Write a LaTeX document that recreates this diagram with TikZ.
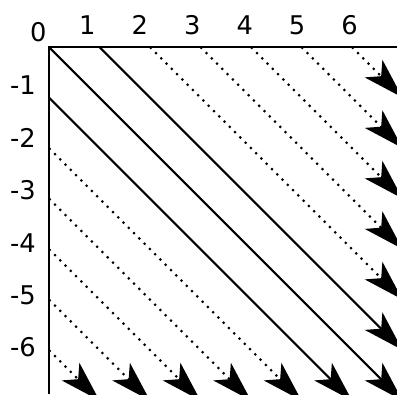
\documentclass[tikz,border=0pt]{standalone}
\usepackage{fontspec}
\setmainfont{DejaVu Sans}
\usetikzlibrary{arrows.meta}
\definecolor{gridink}{HTML}{000000}

\begin{document}
\begin{tikzpicture}[x=1cm, y=1cm,
  every node/.style={gridink, font=\fontsize{14.5}{17}\selectfont, inner sep=0pt},
  axisline/.style={gridink, line width=0.8pt},
  diagline/.style={gridink, line width=1.2pt, -{Stealth[length=23pt, width=14pt, inset=6pt]}},
  dotline/.style={diagline, dash pattern=on 1.2pt off 3pt}]

  \useasboundingbox (-0.970,-6.871) rectangle (6.891,0.931);
  \clip (-0.970,-6.871) rectangle (6.891,0.931);

  % axes
  \coordinate (o) at (0,0);
  \coordinate (axbottom) at (0,-6.871);
  \coordinate (axright) at (6.891,0);
  \draw[axisline] (axbottom) -- (o) -- (axright);

  % start and end points of the diagonals
  \foreach \i in {0,...,6} {
    \coordinate (t\i) at (\i,0);
    \coordinate (r\i) at (7,{\i-7});
  }
  \foreach \j in {1,...,6} {
    \coordinate (l\j) at (0,-\j);
    \coordinate (b\j) at ({7-\j},-7);
  }

  % solid diagonals
  \draw[diagline] (t0) -- (r0);
  \draw[diagline] (t1) -- (r1);
  \draw[diagline] (l1) -- (b1);

  % dotted diagonals
  \foreach \i in {2,...,6} \draw[dotline] (t\i) -- (r\i);
  \foreach \j in {2,...,6} \draw[dotline] (l\j) -- (b\j);

  % labels
  \node (n0) at (-0.21,0.30) {0};
  \foreach \k in {1,...,6} {
    \node (x\k) at ({1.038*\k-0.277},0.436) {\k};
    \node (y\k) at (-0.515,{-(1.038*\k-0.277)}) {-\k};
  }

\end{tikzpicture}
\end{document}
